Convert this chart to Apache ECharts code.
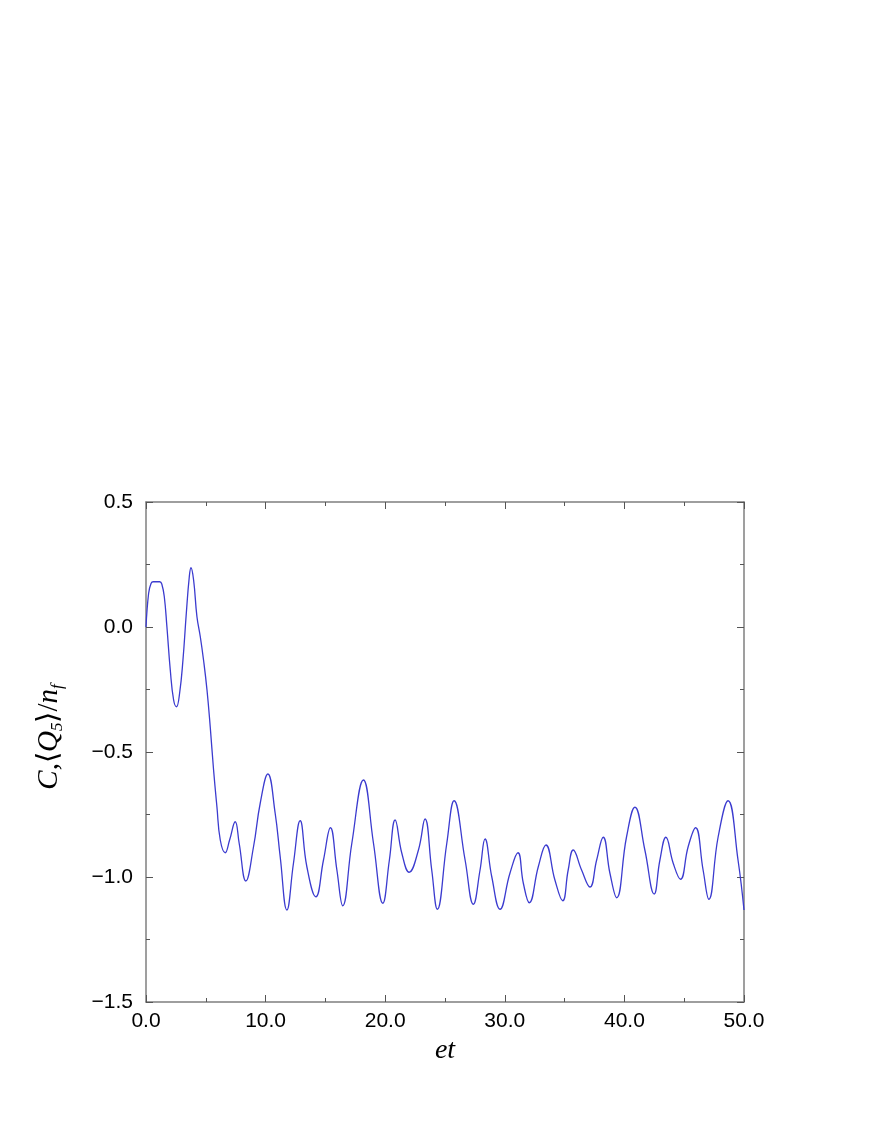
<!DOCTYPE html>
<html>
<head>
<meta charset="utf-8">
<script src="https://cdn.jsdelivr.net/npm/echarts@6/dist/echarts.min.js"></script>
<style>
  html, body { margin: 0; padding: 0; background: #fff; }
  #chart { width: 872px; height: 1128px; }
</style>
</head>
<body>
<div id="chart"></div>
<script>
// time values (et)
var etValues = [
  0.0, 0.22, 0.42, 0.6, 1.15, 1.32, 1.53, 1.75, 2.03, 2.31, 2.55, 2.81, 3.09, 3.37, 3.62, 3.76, 3.98,
  4.26, 4.54, 4.81, 5.1, 5.37, 5.65, 5.93, 6.21, 6.62, 6.99, 7.46, 7.79, 8.35, 8.99, 9.55,
  10.19, 10.8, 11.22, 11.78, 12.33, 12.89, 13.45, 14.2, 14.84, 15.42, 15.96, 16.45, 17.21, 18.18,
  19.02, 19.8, 20.35, 20.83, 21.39, 22.0, 22.78, 23.33, 23.89, 24.36, 25.15, 25.76, 26.68, 27.37,
  27.93, 28.35, 28.91, 29.6, 30.43, 31.1, 31.55, 32.05, 32.8, 33.44, 34.19, 34.84, 35.3, 35.72,
  36.42, 37.12, 37.68, 38.23, 38.79, 39.35, 40.18, 40.88, 41.71, 42.49, 42.97, 43.47, 44.08, 44.69,
  45.33, 45.95, 46.58, 47.06, 47.84, 48.67, 49.5, 50.0
];
// C<Q5>/nf values
var q5Values = [
  0.0, 0.135, 0.174, 0.181, 0.181, 0.172, 0.121, 0.0, -0.172, -0.292, -0.319, -0.265, -0.132, 0.055, 0.201, 0.237, 0.188,
  0.041, -0.039, -0.132, -0.252, -0.399, -0.572, -0.719, -0.852, -0.903, -0.852, -0.779, -0.865, -1.016, -0.879, -0.705,
  -0.588, -0.745, -0.919, -1.132, -0.945, -0.775, -0.959, -1.079, -0.932, -0.803, -0.972, -1.115, -0.865, -0.612,
  -0.865, -1.105, -0.932, -0.772, -0.905, -0.981, -0.892, -0.768, -0.972, -1.129, -0.865, -0.695, -0.932, -1.109,
  -0.972, -0.848, -0.999, -1.129, -0.985, -0.903, -1.025, -1.103, -0.959, -0.872, -1.012, -1.095, -0.972, -0.892,
  -0.972, -1.04, -0.932, -0.841, -0.985, -1.083, -0.839, -0.721, -0.892, -1.068, -0.932, -0.841, -0.945, -1.009,
  -0.879, -0.803, -0.972, -1.089, -0.839, -0.695, -0.932, -1.132
];

var chart = echarts.init(document.getElementById('chart'));

var axisColor = '#7f7f7f';
var fmt = function (v) { return v.toFixed(1).replace('-', '\u2212'); };

function frameAxis(extra) {
  var base = {
    type: 'value',
    axisLine: { show: true, onZero: false, lineStyle: { color: axisColor, width: 1.5 } },
    axisTick: { show: true, inside: true, length: 7, lineStyle: { color: '#555', width: 1 } },
    minorTick: { show: true, splitNumber: 2, length: 4, lineStyle: { color: '#555', width: 1 } },
    splitLine: { show: false },
    minorSplitLine: { show: false }
  };
  return Object.assign(base, extra);
}

var labelStyle = { color: '#000', fontSize: 21, fontFamily: 'Liberation Sans, Arial, sans-serif' };
var serif = 'Liberation Serif, Times New Roman, serif';

var option = {
  backgroundColor: '#fff',
  animation: false,
  grid: { left: 146, right: 128, top: 502, bottom: 126 },
  xAxis: [
    frameAxis({
      min: 0, max: 50, interval: 10,
      axisLabel: Object.assign({ formatter: fmt, margin: 9 }, labelStyle),
      name: 'et',
      nameLocation: 'middle',
      nameGap: 35,
      nameTextStyle: { fontFamily: serif, fontStyle: 'italic', fontSize: 28, color: '#000' }
    }),
    frameAxis({
      position: 'top', min: 0, max: 50, interval: 10,
      axisLabel: { show: false }
    })
  ],
  yAxis: [
    frameAxis({
      min: -1.5, max: 0.5, interval: 0.5,
      axisLabel: Object.assign({ formatter: fmt, margin: 13 }, labelStyle),
      name: '{i|C},\u27E8{i|Q}{s|5}\u27E9/{i|n}{s|f}',
      nameLocation: 'middle',
      nameGap: 80,
      nameRotate: 90,
      nameTextStyle: {
        color: '#000',
        fontFamily: serif,
        fontSize: 29,
        padding: [0, 0, 0, 30],
        rich: {
          i: { fontFamily: serif, fontStyle: 'italic', fontSize: 29, color: '#000' },
          s: { fontFamily: serif, fontStyle: 'italic', fontSize: 17, color: '#000', verticalAlign: 'bottom', padding: [16, 0, 0, 0] }
        }
      }
    }),
    frameAxis({
      position: 'right', min: -1.5, max: 0.5, interval: 0.5,
      axisLabel: { show: false }
    })
  ],
  series: [{
    type: 'line',
    xAxisIndex: 0,
    yAxisIndex: 0,
    data: etValues.map(function (t, i) { return [t, q5Values[i]]; }),
    smooth: 0.45,
    showSymbol: false,
    lineStyle: { color: '#3b3bcf', width: 1.3 }
  }]
};

chart.setOption(option);
</script>
</body>
</html>
